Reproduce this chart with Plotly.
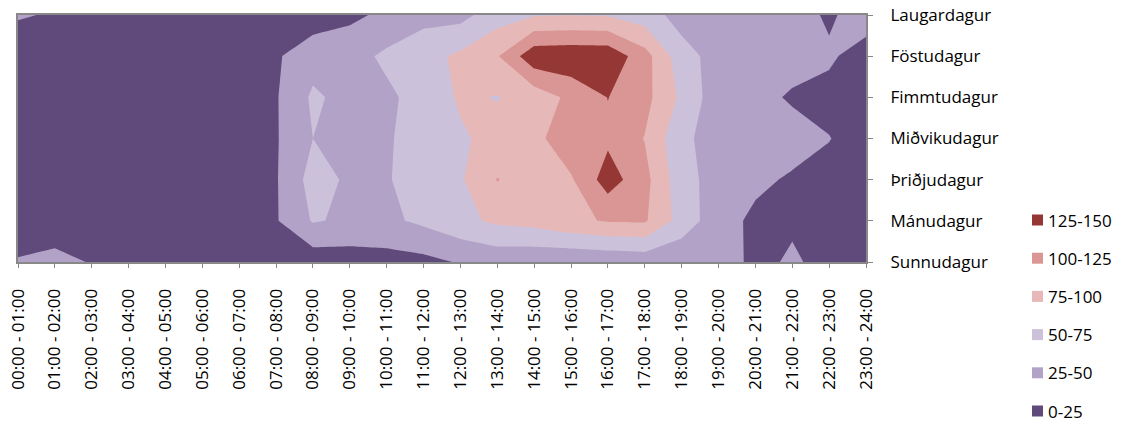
import plotly.graph_objects as go

# ---------------- data ----------------
hour_labels = ["00:00 - 01:00", "01:00 - 02:00", "02:00 - 03:00", "03:00 - 04:00",
               "04:00 - 05:00", "05:00 - 06:00", "06:00 - 07:00", "07:00 - 08:00",
               "08:00 - 09:00", "09:00 - 10:00", "10:00 - 11:00", "11:00 - 12:00",
               "12:00 - 13:00", "13:00 - 14:00", "14:00 - 15:00", "15:00 - 16:00",
               "16:00 - 17:00", "17:00 - 18:00", "18:00 - 19:00", "19:00 - 20:00",
               "20:00 - 21:00", "21:00 - 22:00", "22:00 - 23:00", "23:00 - 24:00"]
day_labels = ["Sunnudagur", "Mánudagur", "Þriðjudagur", "Miðvikudagur",
              "Fimmtudagur", "Föstudagur", "Laugardagur"]

sunnudagur   = [27, 30, 24, 12, 8, 6, 6, 8, 10, 12, 15, 18, 27, 32, 30, 28, 30, 33, 30, 38, 19, 28, 18, 10]
manudagur    = [10, 15, 8, 5, 4, 4, 6, 23, 52, 46, 45, 55, 68, 80, 84, 95, 102, 103, 65, 35, 20, 22, 10, 8]
thridjudagur = [8, 6, 5, 4, 3, 3, 6, 23, 60, 46, 48, 62, 72, 101, 88, 97, 137, 108, 59, 40, 30, 22, 15, 10]
midvikudagur = [7, 5, 4, 3, 3, 3, 6, 23, 50, 42, 47, 62, 72, 82, 92, 118, 120, 99, 55, 40, 38, 35, 26, 10]
fimmtudagur  = [8, 5, 4, 3, 3, 3, 6, 23, 54, 42, 45, 60, 78, 74, 85, 106, 125.5, 108, 70, 35, 33, 22, 15, 10]
fostudagur   = [5, 6, 4, 3, 3, 3, 6, 22, 40, 40, 55, 66, 80, 98, 142, 144, 143, 110, 60, 40, 38, 35, 30, 10]
laugardagur  = [28, 22, 12, 8, 6, 5, 5, 8, 11, 20, 30, 42, 42, 64, 73, 74, 73, 62, 40, 40, 40, 40, 20, 42]

band_labels = ["0-25", "25-50", "50-75", "75-100", "100-125", "125-150"]
band_colors = ["#604A7B", "#B3A2C7", "#CCC1DA", "#E6B9B8", "#D99694", "#953735"]

z = [sunnudagur, manudagur, thridjudagur, midvikudagur, fimmtudagur, fostudagur, laugardagur]

# step colorscale (fill colour of band k sampled at its centre)
stops = [0.0, 0.2, 0.4, 0.6, 0.8, 0.95, 1.0]
colorscale = []
for k, c in enumerate(band_colors):
    colorscale.append([stops[k], c])
    colorscale.append([stops[k + 1], c])

FONT = "Open Sans"
W, H = 1121, 423
# plot area on screen: x 18..866, y 15..262
ML, MT = 18, 15
MR = W - 866
MB = H - 262
PW, PH = W - ML - MR, H - MT - MB

fig = go.Figure()
fig.add_trace(go.Contour(
    x=list(range(len(hour_labels))),
    y=list(range(len(day_labels))),
    z=z,
    contours=dict(start=25, end=125, size=25, coloring="fill", showlines=False),
    line=dict(width=0, smoothing=0),
    colorscale=colorscale,
    showscale=False,
    hoverinfo="skip",
))

def px_x(sx):
    return (sx - ML) / PW

def px_y(sy):
    return (H - MB - sy) / PH

# manual legend (top to bottom: highest band first)
shapes, annotations = [], []
leg_top, leg_step = 220, 38.2
for i, (lab, col) in enumerate(zip(band_labels[::-1], band_colors[::-1])):
    cy = leg_top + i * leg_step
    shapes.append(dict(type="rect", xref="paper", yref="paper",
                       x0=px_x(1032), x1=px_x(1043), y0=px_y(cy + 5.5), y1=px_y(cy - 5.5),
                       fillcolor=col, line=dict(width=0)))
    annotations.append(dict(xref="paper", yref="paper", x=px_x(1046), y=px_y(cy),
                            xanchor="left", yanchor="middle", text=lab, showarrow=False,
                            font=dict(family=FONT, size=17, color="#000000")))

fig.update_layout(
    width=W, height=H,
    margin=dict(l=ML, r=MR, t=MT, b=MB, autoexpand=False),
    paper_bgcolor="white", plot_bgcolor="white",
    font=dict(family=FONT, size=17, color="#000000"),
    shapes=shapes, annotations=annotations,
    showlegend=False,
)
fig.update_xaxes(
    range=[0, len(hour_labels) - 1], automargin=False, ticklabeloverflow="allow",
    tickmode="array", tickvals=list(range(len(hour_labels))), ticktext=hour_labels,
    tickangle=-90, ticks="outside", ticklen=4, tickcolor="#888888",
    showline=True, linecolor="#888888", linewidth=2, mirror=True,
    showgrid=False, zeroline=False, ticklabelstandoff=14,
    tickfont=dict(family=FONT, size=17, color="#000000"),
)
fig.update_yaxes(
    range=[0, len(day_labels) - 1], side="right", automargin=False, ticklabeloverflow="allow",
    tickmode="array", tickvals=list(range(len(day_labels))), ticktext=day_labels,
    ticks="outside", ticklen=5, tickcolor="#888888",
    showline=True, linecolor="#888888", linewidth=2, mirror=True,
    showgrid=False, zeroline=False, ticklabelstandoff=14,
    tickfont=dict(family=FONT, size=17, color="#000000"),
)

fig.write_html("out.html", config={"displayModeBar": False},
               post_script="document.body.style.margin='0';")
